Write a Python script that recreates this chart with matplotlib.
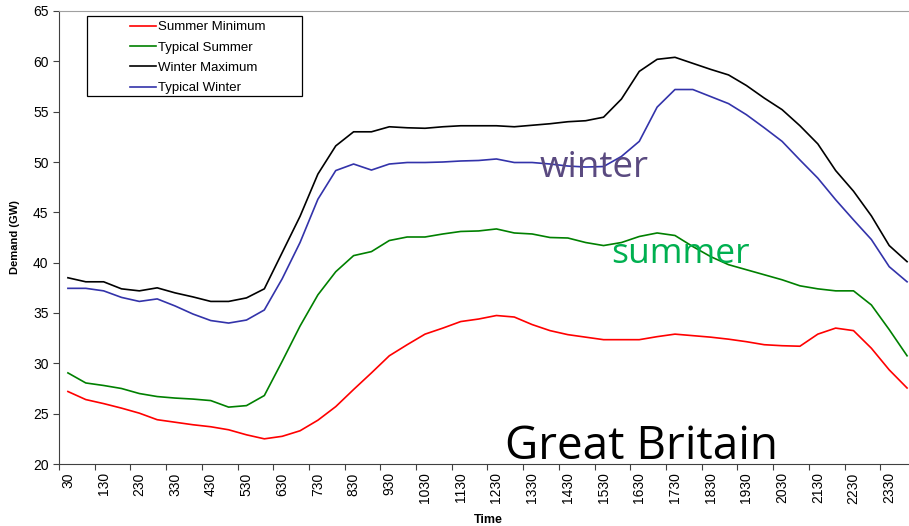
import matplotlib.pyplot as plt
from matplotlib.patches import Rectangle
import numpy as np

times = ['30', '100', '130', '200', '230', '300', '330', '400', '430', '500',
         '530', '600', '630', '700', '730', '800', '830', '900', '930', '1000',
         '1030', '1100', '1130', '1200', '1230', '1300', '1330', '1400', '1430', '1500',
         '1530', '1600', '1630', '1700', '1730', '1800', '1830', '1900', '1930', '2000',
         '2030', '2100', '2130', '2200', '2230', '2300', '2330', '2400']

summer_min = [27.2, 26.4, 26.0, 25.55, 25.05, 24.4, 24.15, 23.9, 23.7, 23.4,
              22.9, 22.5, 22.75, 23.3, 24.35, 25.7, 27.4, 29.05, 30.75, 31.85,
              32.9, 33.5, 34.15, 34.4, 34.75, 34.6, 33.85, 33.25, 32.85, 32.6,
              32.35, 32.35, 32.35, 32.65, 32.9, 32.75, 32.6, 32.4, 32.15, 31.85,
              31.75, 31.7, 32.9, 33.5, 33.25, 31.5, 29.35, 27.55]

typical_summer = [29.05, 28.05, 27.8, 27.5, 27.0, 26.7, 26.55, 26.45, 26.3, 25.65,
                  25.8, 26.8, 30.2, 33.7, 36.8, 39.1, 40.7, 41.1, 42.2, 42.55,
                  42.55, 42.85, 43.1, 43.15, 43.35, 42.95, 42.85, 42.5, 42.45, 42.0,
                  41.7, 42.0, 42.6, 42.95, 42.7, 41.6, 40.6, 39.8, 39.3, 38.8,
                  38.3, 37.7, 37.4, 37.2, 37.2, 35.8, 33.35, 30.75]

winter_max = [38.5, 38.1, 38.1, 37.4, 37.2, 37.5, 37.0, 36.6, 36.15, 36.15,
              36.5, 37.4, 41.0, 44.6, 48.8, 51.6, 53.0, 53.0, 53.5, 53.4,
              53.35, 53.5, 53.6, 53.6, 53.6, 53.5, 53.65, 53.8, 54.0, 54.1,
              54.45, 56.25, 59.0, 60.2, 60.4, 59.8, 59.2, 58.65, 57.6, 56.35,
              55.2, 53.6, 51.8, 49.15, 47.1, 44.65, 41.7, 40.1]

typical_winter = [37.45, 37.45, 37.2, 36.55, 36.15, 36.4, 35.7, 34.9, 34.25, 34.0,
                  34.3, 35.3, 38.4, 42.0, 46.3, 49.15, 49.8, 49.2, 49.8, 49.95,
                  49.95, 50.0, 50.1, 50.15, 50.3, 49.95, 49.95, 49.8, 49.6, 49.5,
                  49.55, 50.55, 52.05, 55.45, 57.2, 57.2, 56.5, 55.8, 54.7, 53.4,
                  52.05, 50.2, 48.4, 46.25, 44.25, 42.3, 39.6, 38.1]

plt.rcParams['font.family'] = ['Liberation Sans', 'DejaVu Sans']

fig = plt.figure(figsize=(9.09, 5.26), dpi=100)
# plot area runs past the right edge of the picture, as in the cropped original
ax = fig.add_axes([59 / 909, 1 - 464 / 526, 857 / 909, 453 / 526])

x = np.arange(len(times))
ax.plot(x, summer_min, color='#ff0000', lw=1.2, label='Summer Minimum')
ax.plot(x, typical_summer, color='#008000', lw=1.2, label='Typical Summer')
ax.plot(x, winter_max, color='#000000', lw=1.2, label='Winter Maximum')
ax.plot(x, typical_winter, color='#3333aa', lw=1.2, label='Typical Winter')

ax.set_xlim(-0.5, len(times) - 0.5)
ax.set_ylim(20, 65)
ax.set_yticks(np.arange(20, 66, 5))
ax.tick_params(axis='y', labelsize=10, length=4, color='#404040')

# ticks between categories, labels on every other category
ax.set_xticks(np.arange(-0.5, len(times), 2))
ax.set_xticklabels([])
ax.tick_params(axis='x', which='major', length=4, color='#404040')
ax.set_xticks(x[::2], minor=True)
ax.set_xticklabels(times[::2], minor=True, rotation=90)
ax.tick_params(axis='x', which='minor', length=0, labelsize=10, pad=6)

ax.spines['top'].set_color('#a0a0a0')
ax.spines['right'].set_visible(False)
ax.spines['left'].set_color('#404040')
ax.spines['bottom'].set_color('#404040')

ax.set_ylabel('Demand (GW)', fontsize=8, fontweight='bold', labelpad=9)
ax.set_xlabel('Time', fontsize=9, fontweight='bold')
ax.xaxis.set_label_coords(429 / 857, -50 / 453)

# legend box: frame drawn separately for the wide Excel-style padding
leg = ax.legend(loc='upper left', bbox_to_anchor=(71 / 857, 1 - 10 / 453),
                fontsize=9.5, frameon=False, handlelength=2.0,
                handletextpad=0.1, borderpad=0, labelspacing=0.62,
                borderaxespad=0)
ax.add_patch(Rectangle((28 / 857, 1 - 85 / 453), 215 / 857, 80 / 453,
                       transform=ax.transAxes, fill=False, edgecolor='#000000',
                       lw=0.9, zorder=5))

fig.text(540 / 909, 1 - 177 / 526, 'winter', fontsize=26.5, color='#5a4a80',
         family='Open Sans', va='baseline', ha='left')
fig.text(611 / 909, 1 - 263 / 526, 'summer', fontsize=25.5, color='#00b050',
         family='Open Sans', va='baseline', ha='left')
fig.text(505 / 909, 1 - 459 / 526, 'Great Britain', fontsize=33, color='#000000',
         family='Open Sans', va='baseline', ha='left')

fig.savefig('out.png', dpi=100)
